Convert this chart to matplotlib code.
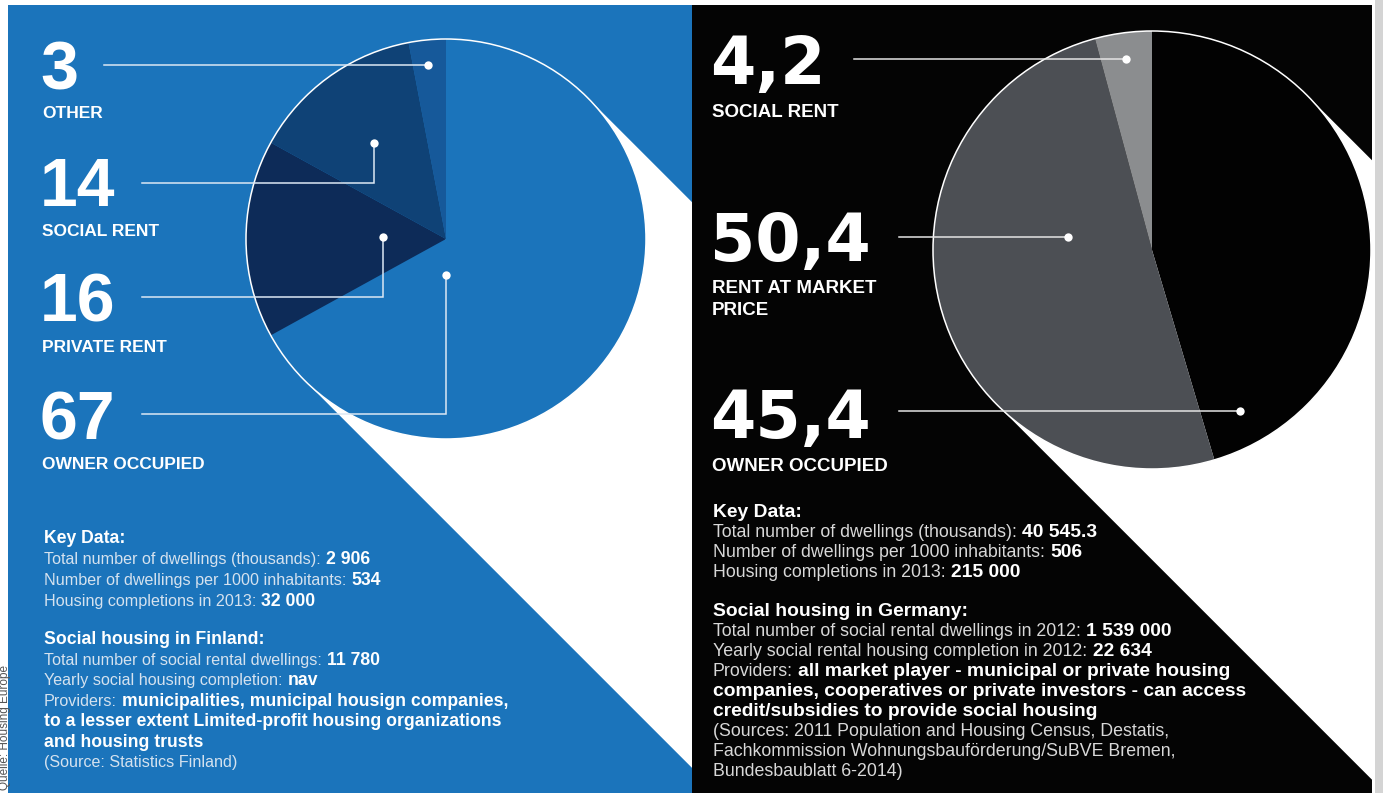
import numpy as np
import matplotlib
matplotlib.use("Agg")
import matplotlib.pyplot as plt
from matplotlib import font_manager
from matplotlib.patches import Rectangle, Polygon, Circle

W, H = 1383, 793

# ---- data ----
fin_labels = ["OWNER OCCUPIED", "PRIVATE RENT", "SOCIAL RENT", "OTHER"]
fin_values = [67, 16, 14, 3]
ger_labels = ["OWNER OCCUPIED", "RENT AT MARKET\nPRICE", "SOCIAL RENT"]
ger_values = [45.4, 50.4, 4.2]

fin_key = [("Total number of dwellings (thousands): ", "2 906"),
           ("Number of dwellings per 1000 inhabitants: ", "534"),
           ("Housing completions in 2013: ", "32 000")]
fin_social = [("Total number of social rental dwellings: ", "11 780"),
              ("Yearly social housing completion: ", "nav"),
              ("Providers: ", "municipalities, municipal housign companies,"),
              ("", "to a lesser extent Limited-profit housing organizations"),
              ("", "and housing trusts"),
              ("(Source: Statistics Finland)", "")]
ger_key = [("Total number of dwellings (thousands): ", "40 545.3"),
           ("Number of dwellings per 1000 inhabitants: ", "506"),
           ("Housing completions in 2013: ", "215 000")]
ger_social = [("Total number of social rental dwellings in 2012: ", "1 539 000"),
              ("Yearly social rental housing completion in 2012: ", "22 634"),
              ("Providers: ", "all market player - municipal or private housing"),
              ("", "companies, cooperatives or private investors - can access"),
              ("", "credit/subsidies to provide social housing"),
              ("(Sources: 2011 Population and Housing Census, Destatis,", ""),
              ("Fachkommission Wohnungsbauförderung/SuBVE Bremen,", ""),
              ("Bundesbaublatt 6-2014)", "")]

# ---- style ----
blue = "#1b74bb"
fin_colors = [blue, "#0d2b58", "#0f4276", "#16599a"]
black = "#040404"
ger_colors = ["#020202", "#4c4f54", "#8b8d8f"]

names = {f.name for f in font_manager.fontManager.ttflist}
bold_font = "Liberation Sans"
if "Liberation Sans Narrow" in names:
    light_font = "Liberation Sans Narrow"
    light_scale = 1.04
else:
    light_font = "Liberation Sans"
    light_scale = 0.857

fig = plt.figure(figsize=(W / 100, H / 100), dpi=100)
fig.patch.set_facecolor("white")
ax = fig.add_axes([0, 0, 1, 1])
renderer = fig.canvas.get_renderer()

left_panel = Rectangle((8, 5), 684, 790, fc=blue, ec="none", zorder=0)
right_panel = Rectangle((692, 5), 680, 790, fc=black, ec="none", zorder=0)
ax.add_patch(left_panel)
ax.add_patch(right_panel)
ax.add_patch(Rectangle((1375, 0), 8, H, fc="#d4d4d4", ec="none", zorder=0))


def shadow(cx, cy, r, panel):
    p = np.array([1.0, -1.0]) / np.sqrt(2)
    d = np.array([1.0, 1.0]) / np.sqrt(2)
    c = np.array([cx, cy])
    a, b = c + r * p, c - r * p
    poly = Polygon([a, a + 2000 * d, b + 2000 * d, b], closed=True,
                   fc="white", ec="none", zorder=1)
    ax.add_patch(poly)
    poly.set_clip_path(panel)


def pie(values, colors, cx, cy, r):
    wedges, _ = ax.pie(values, colors=colors, center=(cx, cy), radius=r,
                       startangle=-90, counterclock=True,
                       wedgeprops=dict(linewidth=0))
    for w in wedges:
        w.set_zorder(2)
    ax.add_patch(Circle((cx, cy), r, fill=False, ec="white", lw=1.1, zorder=3))


def polar(cx, cy, r, theta, frac):
    t = np.deg2rad(theta)
    return cx + frac * r * np.sin(t), cy - frac * r * np.cos(t)


def text_width(t):
    return t.get_window_extent(renderer).width


def callouts(order, labels, values, fmt, x, num_y, lab_y, lab_step,
             dots, center, num_size, num_font, lab_size, gap, line_col):
    cx, cy, r = center
    for k, i in enumerate(order):
        t = ax.text(x, num_y[k], fmt(values[i]), fontsize=num_size,
                    fontweight="bold", family=num_font, color="white",
                    va="baseline", ha="left", zorder=5)
        x0 = x + text_width(t) + gap
        for j, line in enumerate(labels[i].split("\n")):
            ax.text(x + 2, lab_y[k] + j * lab_step, line, fontsize=lab_size,
                    fontweight="bold", family=bold_font, color="white",
                    va="baseline", ha="left", zorder=5)
        dx, dy = polar(cx, cy, r, dots[k][0], dots[k][1])
        ly = dots[k][2] if len(dots[k]) > 2 else dy
        ax.plot([x0, dx, dx], [ly, ly, dy], color=line_col, lw=1.1,
                solid_joinstyle="miter", zorder=4)
        ax.plot(dx, dy, "o", ms=6, color="white", mec="none", zorder=4)


def rich_block(x, y, heading, rows, step, head_gap, size_light, size_bold,
               light_col):
    ax.text(x, y, heading, fontsize=size_bold, fontweight="bold",
            family=bold_font, color="white", va="baseline", zorder=5)
    y += head_gap
    for reg, bold in rows:
        xx = x
        if reg:
            t = ax.text(xx, y, reg.rstrip(), fontsize=size_light * light_scale,
                        family=light_font, color=light_col, va="baseline",
                        zorder=5)
            xx += text_width(t)
            if reg.endswith(" "):
                xx += size_bold * 100 / 72 * 0.28
        if bold:
            ax.text(xx, y, bold, fontsize=size_bold, fontweight="bold",
                    family=bold_font, color="white", va="baseline", zorder=5)
        y += step
    return y


# ---- Finland ----
fin_c = (446, 239, 200)
shadow(fin_c[0], fin_c[1], fin_c[2], left_panel)
pie(fin_values, fin_colors, *fin_c)

# ---- Germany ----
ger_c = (1152, 250, 219)
shadow(ger_c[0], ger_c[1], ger_c[2], right_panel)
pie(ger_values, ger_colors, *ger_c)

ax.set_xlim(0, W)
ax.set_ylim(H, 0)
ax.axis("off")

callouts([3, 2, 1, 0], fin_labels, fin_values, lambda v: f"{v:d}", 40,
         [90, 206, 322, 439], [118, 236, 352, 469], 22,
         [(354.1, 0.875, 65), (323.1, 0.6, 183), (271.8, 0.315, 297),
          (180, 0.18, 414)],
         fin_c, 49, bold_font, 12.5, 26, "#dce8f4")

callouts([2, 1, 0], ger_labels, ger_values,
         lambda v: f"{v:.1f}".replace(".", ","), 710,
         [84, 261, 438], [117, 293, 471], 22,
         [(352.2, 0.88), (278.8, 0.388), (151.3, 0.838)],
         ger_c, 47, "DejaVu Sans", 13.5, 28, "#e4e4e4")

rich_block(44, 543, "Key Data:", fin_key, 21, 21, 13.6, 12.7, "#d5e2ef")
rich_block(44, 644, "Social housing in Finland:", fin_social, 20.4, 21,
           13.6, 12.7, "#d5e2ef")

rich_block(713, 517, "Key Data:", ger_key, 20, 20, 14.9, 13.9, "#d8d8d8")
rich_block(713, 616, "Social housing in Germany:", ger_social, 20, 20,
           14.9, 13.9, "#d8d8d8")

# source credit on the page edge
ax.text(5, 790, "Quelle: Housing Europe", rotation=90, rotation_mode="anchor",
        ha="left", va="center", fontsize=8.5, family="Liberation Sans",
        color="#555555", zorder=5)

fig.savefig("out.png", dpi=100, facecolor="white")
